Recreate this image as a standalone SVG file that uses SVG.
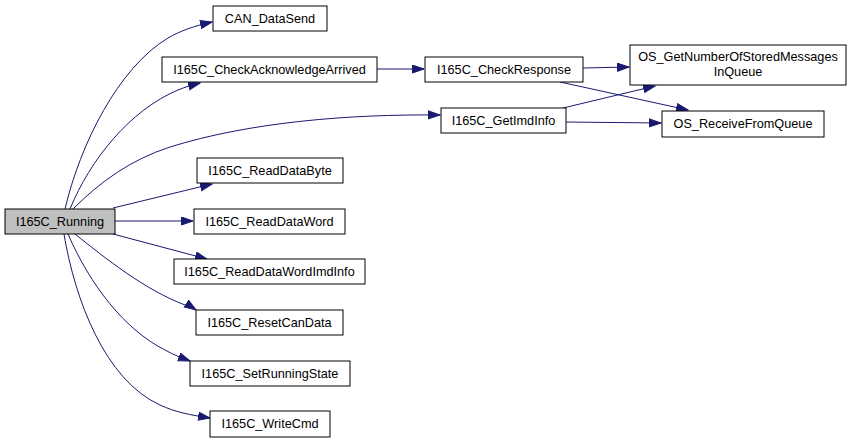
<svg xmlns="http://www.w3.org/2000/svg" width="861" height="443" viewBox="0 0 861 443">
<style>
.n rect{fill:#fff;stroke:#000;stroke-width:1}
.n.root rect{fill:#bfbfbf}
.n text{font-family:"Liberation Sans",Arial,sans-serif;font-size:12.7px;fill:#000;text-anchor:middle}
.e path{fill:none;stroke:#191970;stroke-width:1;marker-end:url(#ah)}
</style>
<defs>
<marker id="ah" markerUnits="userSpaceOnUse" markerWidth="14" markerHeight="10" refX="12" refY="4.5" orient="auto">
<path d="M0.5,0.5 L12,4.5 L0.5,8.5 z" fill="#191970" stroke="#191970" stroke-width="1"/>
</marker>
</defs>
<rect width="861" height="443" fill="#fff"/>
<g id="edges" class="e">
<path d="M65,209 C80,145 118,68 168,38 C180,31 194,26 212,22"/>
<path d="M70,209 C90,160 130,110 178,90 C185,87 192,85 200,83"/>
<path d="M73,209 C100,182 130,160 170,147 C250,122 350,114 440,115"/>
<path d="M113,208 L212,184"/>
<path d="M115,221 L193,221"/>
<path d="M113,234 L207,259"/>
<path d="M75,234 C105,258 145,290 185,305 C189,307 193,308 196,310"/>
<path d="M68,234 C90,285 125,330 165,350 C174,355 182,358 190,361"/>
<path d="M64,234 C75,300 105,380 160,405 C175,412 190,415 210,418"/>
<path d="M377,69 L424,69"/>
<path d="M583,68 L629,67"/>
<path d="M560,82 L688,110"/>
<path d="M563,108 L655,86"/>
<path d="M566,122 L661,123"/>
</g>
<g id="n_running" class="n root"><rect x="5" y="209" width="110" height="25"/><text x="60" y="226">I165C_Running</text></g>
<g id="n_candatasend" class="n"><rect x="213" y="6" width="114" height="25"/><text x="270" y="23">CAN_DataSend</text></g>
<g id="n_checkack" class="n"><rect x="162" y="57" width="215" height="25"/><text x="269.5" y="74">I165C_CheckAcknowledgeArrived</text></g>
<g id="n_readdatabyte" class="n"><rect x="197" y="158" width="146" height="25"/><text x="270" y="175">I165C_ReadDataByte</text></g>
<g id="n_readdataword" class="n"><rect x="194" y="209" width="151" height="25"/><text x="269.5" y="226">I165C_ReadDataWord</text></g>
<g id="n_readdatawordimd" class="n"><rect x="174" y="259" width="191" height="25"/><text x="269.5" y="276">I165C_ReadDataWordImdInfo</text></g>
<g id="n_resetcandata" class="n"><rect x="196" y="310" width="147" height="25"/><text x="269.5" y="327">I165C_ResetCanData</text></g>
<g id="n_setrunningstate" class="n"><rect x="190" y="361" width="160" height="25"/><text x="270" y="378">I165C_SetRunningState</text></g>
<g id="n_writecmd" class="n"><rect x="210" y="411" width="120" height="26"/><text x="270" y="428">I165C_WriteCmd</text></g>
<g id="n_checkresponse" class="n"><rect x="425" y="57" width="158" height="25"/><text x="504" y="74">I165C_CheckResponse</text></g>
<g id="n_getimdinfo" class="n"><rect x="441" y="108" width="125" height="25"/><text x="503.5" y="125">I165C_GetImdInfo</text></g>
<g id="n_osgetnumber" class="n"><rect x="630" y="45" width="216" height="40"/><text x="738" y="61">OS_GetNumberOfStoredMessages</text><text x="738" y="76">InQueue</text></g>
<g id="n_osreceive" class="n"><rect x="662" y="111" width="162" height="26"/><text x="743" y="128">OS_ReceiveFromQueue</text></g>
</svg>
